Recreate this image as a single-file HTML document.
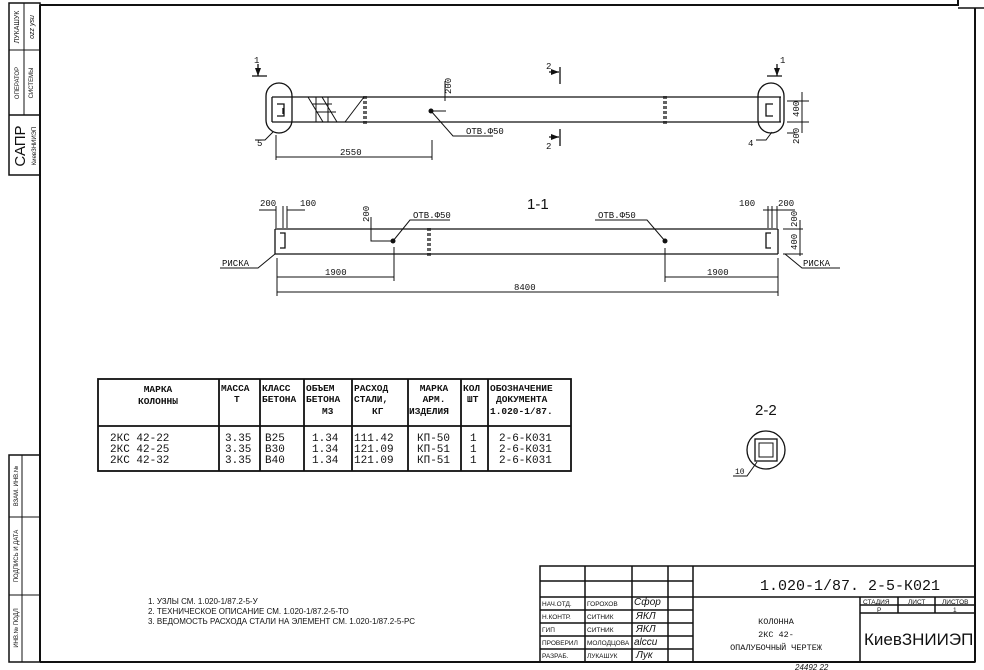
<!DOCTYPE html>
<html><head><meta charset="utf-8"><style>
body{margin:0;background:#fff}
svg{display:block}
text{font-family:"Liberation Sans",sans-serif;fill:#111}
text.m,.m text{font-family:"Liberation Mono",monospace}
</style></head><body>
<svg width="984" height="670" viewBox="0 0 984 670" xmlns="http://www.w3.org/2000/svg">
<g stroke="#111" fill="none" stroke-width="2">
<polyline points="40,5 958,5 958,0"/>
<line x1="975" y1="8" x2="975" y2="662"/>
<line x1="40" y1="5" x2="40" y2="662"/>
<line x1="40" y1="662" x2="975" y2="662"/>
<line x1="958" y1="8" x2="984" y2="8" stroke-width="1.5"/>
<rect x="9" y="3" width="31" height="172" stroke-width="1.5"/>
<line x1="9" y1="50" x2="40" y2="50" stroke-width="1"/>
<line x1="9" y1="115" x2="40" y2="115" stroke-width="1.5"/>
<line x1="24" y1="3" x2="24" y2="115" stroke-width="1"/>
<rect x="9" y="455" width="31" height="207" stroke-width="1.5"/>
<line x1="22" y1="455" x2="22" y2="662" stroke-width="1"/>
<line x1="9" y1="517" x2="40" y2="517" stroke-width="1"/>
<line x1="9" y1="595" x2="40" y2="595" stroke-width="1"/>
</g>
<g font-size="7">
<text transform="translate(19,27) rotate(-90)" text-anchor="middle">ЛУКАШУК</text>
<text transform="translate(34,27) rotate(-90)" text-anchor="middle" font-style="italic">ozz ysu</text>
<text transform="translate(19,83) rotate(-90)" text-anchor="middle" font-size="6">ОПЕРАТОР</text>
<text transform="translate(33,83) rotate(-90)" text-anchor="middle" font-size="6">СИСТЕМЫ</text>
<text transform="translate(25,146) rotate(-90)" text-anchor="middle" font-size="15">САПР</text>
<text transform="translate(36,146) rotate(-90)" text-anchor="middle" font-size="6">КиевЗНИИЭП</text>
<text transform="translate(18,486) rotate(-90)" text-anchor="middle" font-size="6">ВЗАМ. ИНВ.№</text>
<text transform="translate(18,556) rotate(-90)" text-anchor="middle" font-size="6">ПОДПИСЬ И ДАТА</text>
<text transform="translate(18,628) rotate(-90)" text-anchor="middle" font-size="6">ИНВ.№ ПОДЛ</text>
</g>

<g stroke="#111" fill="none" stroke-width="1.3">
<line x1="272" y1="97" x2="781" y2="97"/>
<line x1="272" y1="122" x2="781" y2="122"/>
<rect x="266" y="83" width="26" height="50" rx="13"/>
<rect x="758" y="83" width="26" height="50" rx="13"/>
<line x1="272" y1="97" x2="272" y2="122"/><line x1="780" y1="97" x2="780" y2="122"/>
<path d="M277,104h7v12h-7 M283,108v6 M773,104h-7v12h7"/>
<path d="M308,97l15,25 M322,97l15,25 M316,97v25 M328,97v25 M312,104h20 M316,112h20" stroke-width="1"/>
<line x1="364" y1="97" x2="345" y2="122" stroke-width="1"/>
<path d="M364,96v28 M366,96v28 M664,96v28 M666,96v28" stroke-dasharray="3,2"/>
<path d="M252,76h15 M258,64v12 M767,76h15 M777,64v12"/>
<path d="M549,72h10 M560,67v17 M549,137h10 M560,129v17"/>
<path d="M255,140h10l8,-8 M756,140h10l6,-8" stroke-width="1"/>
<path d="M431,111l22,25h40" stroke-width="1"/>
<path d="M431,111h15 M445,101v-20" stroke-width="1"/>
<path d="M787,101h22 M787,122h22 M787,133h8 M802,92v41" stroke-width="1"/>
<path d="M276,135v25 M432,140v20 M276,157h156" stroke-width="1"/>
</g>
<g fill="#111">
<polygon points="258,76 255,68 261,68"/><polygon points="777,76 774,68 780,68"/>
<polygon points="559,72 551,69 551,75"/><polygon points="559,137 551,134 551,140"/>
<circle cx="431" cy="111" r="2.5"/>
</g>
<g font-size="9" class="m">
<text x="254" y="63">1</text><text x="780" y="63">1</text>
<text x="546" y="69">2</text><text x="546" y="149">2</text>
<text x="257" y="146">5</text><text x="748" y="146">4</text>
<text x="466" y="134">ОТВ.Ф50</text>
<text x="340" y="155">2550</text>
<text transform="translate(451,94) rotate(-90)">200</text>
<text transform="translate(799,117) rotate(-90)">400</text>
<text transform="translate(799,144) rotate(-90)">200</text>
</g>

<g stroke="#111" fill="none" stroke-width="1.3">
<line x1="275" y1="229" x2="778" y2="229"/>
<line x1="275" y1="254" x2="778" y2="254"/>
<line x1="275" y1="229" x2="275" y2="254"/><line x1="778" y1="229" x2="778" y2="254"/>
<path d="M280,233h5v15h-5 M771,233h-5v15h5"/>
<path d="M428,228v28 M430,228v28" stroke-dasharray="3,2"/>
<path d="M259,210h17 M276,206v22 M283,206v22 M287,206v22 M287,210h18 M763,210h14 M768,206v22 M772,206v22 M777,206v22 M777,210h18" stroke-width="1"/>
<path d="M371,229v12h22 M371,229v-12" stroke-width="1"/>
<path d="M393,241l17,-21h40 M665,241l-18,-21h-52" stroke-width="1"/>
<path d="M783,229h20 M783,254h20 M800,220v36" stroke-width="1"/>
<path d="M220,268h38l17,-14 M840,268h-38l-17,-14" stroke-width="1"/>
<path d="M277,258v38 M394,247v34 M277,277h117 M665,248v34 M778,258v38 M665,277h113 M277,292h501" stroke-width="1"/>
</g>
<g fill="#111"><circle cx="393" cy="241" r="2.5"/><circle cx="665" cy="241" r="2.5"/></g>
<g font-size="9" class="m">
<text x="260" y="206">200</text><text x="300" y="206">100</text>
<text x="739" y="206">100</text><text x="778" y="206">200</text>
<text transform="translate(369,222) rotate(-90)">200</text>
<text transform="translate(797,227) rotate(-90)">200</text>
<text transform="translate(797,250) rotate(-90)">400</text>
<text x="413" y="218">ОТВ.Ф50</text><text x="598" y="218">ОТВ.Ф50</text>
<text x="222" y="266">РИСКА</text><text x="803" y="266">РИСКА</text>
<text x="325" y="275">1900</text><text x="707" y="275">1900</text>
<text x="514" y="290">8400</text>
</g>
<text x="527" y="209" font-size="15">1-1</text>

<g stroke="#111" fill="none" stroke-width="1.8">
<rect x="98" y="379" width="473" height="92"/>
<line x1="98" y1="426" x2="571" y2="426"/>
<path d="M219,379v92 M260,379v92 M304,379v92 M352,379v92 M408,379v92 M461,379v92 M488,379v92"/>
</g>
<g font-size="9.5" class="m" font-weight="bold">
<text x="158" y="392" text-anchor="middle">МАРКА</text><text x="158" y="404" text-anchor="middle">КОЛОННЫ</text>
<text x="221" y="391">МАССА</text><text x="234" y="402">Т</text>
<text x="262" y="391">КЛАСС</text><text x="262" y="402">БЕТОНА</text>
<text x="306" y="391">ОБЪЕМ</text><text x="306" y="402">БЕТОНА</text><text x="322" y="414">М3</text>
<text x="354" y="391">РАСХОД</text><text x="354" y="402">СТАЛИ,</text><text x="372" y="414">КГ</text>
<text x="434" y="391" text-anchor="middle">МАРКА</text><text x="434" y="402" text-anchor="middle">АРМ.</text><text x="409" y="414">ИЗДЕЛИЯ</text>
<text x="463" y="391">КОЛ</text><text x="467" y="402">ШТ</text>
<text x="490" y="391">ОБОЗНАЧЕНИЕ</text><text x="496" y="402">ДОКУМЕНТА</text><text x="490" y="414">1.020-1/87.</text>
<g font-size="11" font-weight="normal">
<text x="110" y="441">2КС  42-22</text><text x="110" y="452">2КС  42-25</text><text x="110" y="463">2КС  42-32</text>
<text x="225" y="441">3.35</text><text x="225" y="452">3.35</text><text x="225" y="463">3.35</text>
<text x="265" y="441">B25</text><text x="265" y="452">B30</text><text x="265" y="463">B40</text>
<text x="312" y="441">1.34</text><text x="312" y="452">1.34</text><text x="312" y="463">1.34</text>
<text x="354" y="441">111.42</text><text x="354" y="452">121.09</text><text x="354" y="463">121.09</text>
<text x="417" y="441">КП-50</text><text x="417" y="452">КП-51</text><text x="417" y="463">КП-51</text>
<text x="470" y="441">1</text><text x="470" y="452">1</text><text x="470" y="463">1</text>
<text x="499" y="441">2-6-К031</text><text x="499" y="452">2-6-К031</text><text x="499" y="463">2-6-К031</text>
</g>
</g>

<text x="755" y="415" font-size="15">2-2</text>
<g stroke="#111" fill="none" stroke-width="1.3">
<circle cx="766" cy="450" r="19"/>
<rect x="755" y="439" width="22" height="22"/>
<rect x="759" y="443" width="14" height="14" stroke-width="1"/>
<path d="M733,476h14l10,-14" stroke-width="1"/>
</g>
<text x="735" y="474" font-size="8" class="m">10</text>

<g font-size="8">
<text x="148" y="604">1. УЗЛЫ СМ. 1.020-1/87.2-5-У</text>
<text x="148" y="614">2. ТЕХНИЧЕСКОЕ ОПИСАНИЕ СМ. 1.020-1/87.2-5-ТО</text>
<text x="148" y="624">3. ВЕДОМОСТЬ РАСХОДА СТАЛИ НА ЭЛЕМЕНТ СМ. 1.020-1/87.2-5-РС</text>
</g>

<g stroke="#111" fill="none" stroke-width="1.5">
<rect x="540" y="566" width="435" height="96"/>
<path d="M540,581h153 M540,597h435 M540,610h153 M540,623h153 M540,636h153 M540,649h153"/>
<path d="M585,566v96 M632,566v96 M668,566v96 M693,566v96"/>
<path d="M860,597v65 M860,605h115 M860,613h115 M898,597v16 M935,597v16"/>
</g>
<g font-size="6.5">
<text x="542" y="606">НАЧ.ОТД.</text><text x="587" y="606">ГОРОХОВ</text>
<text x="542" y="619">Н.КОНТР.</text><text x="587" y="619">СИТНИК</text>
<text x="542" y="632">ГИП</text><text x="587" y="632">СИТНИК</text>
<text x="542" y="645">ПРОВЕРИЛ</text><text x="587" y="645">МОЛОДЦОВА</text>
<text x="542" y="658">РАЗРАБ.</text><text x="587" y="658">ЛУКАШУК</text>
<text x="863" y="604">СТАДИЯ</text><text x="908" y="604">ЛИСТ</text><text x="942" y="604">ЛИСТОВ</text>
<text x="877" y="612">Р</text><text x="953" y="612">1</text>
</g>
<g font-size="10" font-style="italic">
<text x="634" y="605">Сфор</text><text x="636" y="619">ЯКЛ</text><text x="636" y="632">ЯКЛ</text><text x="634" y="645">alccu</text><text x="636" y="658">Лук</text>
</g>
<text x="760" y="590" font-size="15" class="m">1.020-1/87. 2-5-К021</text>
<g font-size="8.5" class="m" text-anchor="middle">
<text x="776" y="624">КОЛОННА</text><text x="776" y="637">2КС 42-</text><text x="776" y="650">ОПАЛУБОЧНЫЙ ЧЕРТЕЖ</text>
</g>
<text x="864" y="645" font-size="17">КиевЗНИИЭП</text>
<text x="795" y="670" font-size="8" font-style="italic">24492    22</text>
</svg>
</body></html>
